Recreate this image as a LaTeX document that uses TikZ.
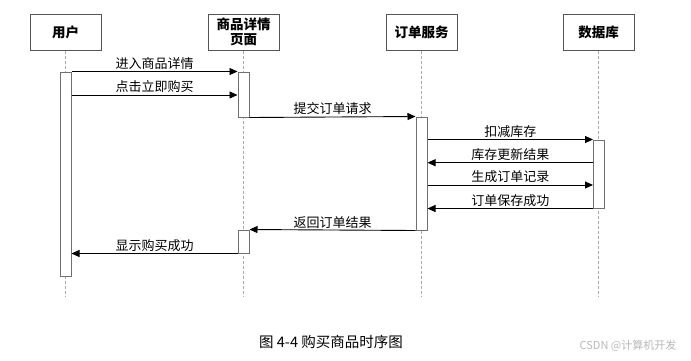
\documentclass[tikz,border=0pt]{standalone}
\usepackage{fontspec}
\setmainfont{Noto Sans CJK SC}
\usetikzlibrary{arrows.meta,positioning,calc}
\definecolor{boxline}{HTML}{555555}
\definecolor{barline}{HTML}{707070}
\definecolor{lifeline}{HTML}{AAAAAA}
\definecolor{wmark}{HTML}{B8B8B8}
\tikzset{
  actor/.style={rectangle,draw=boxline,line width=1pt,fill=white,minimum width=71pt,minimum height=36pt,align=center,inner sep=1pt,font=\fontsize{13.5}{15}\selectfont\bfseries},
  bar/.style={rectangle,draw=barline,line width=1pt,fill=white,minimum width=11pt,inner sep=0pt},
  life/.style={lifeline,dashed,line width=0.6pt,dash pattern=on 3pt off 2pt},
  msg/.style={-{Triangle[length=8pt,width=7pt]},line width=0.9pt,black},
  msglabel/.style={midway,above,inner sep=1.5pt,font=\fontsize{13}{14}\selectfont}
}
\begin{document}
\begin{tikzpicture}[x=1pt,y=-1pt]
  \useasboundingbox (0,0) rectangle (691,360);
  % participants
  \node[actor] (user) at (65.5,32) {用户};
  \node[actor] (page) at (243.5,32) {商品详情\\页面};
  \node[actor] (order) at (421.5,32) {订单服务};
  \node[actor] (db) at (598.5,32) {数据库};
  % lifelines
  \foreach \p in {user,page,order,db}
    \draw[life] (\p.south) -- (\p.south |- 0,297);
  % activation bars
  \node[bar,minimum height=204pt] (ubar) at (65.5,174) {};
  \node[bar,minimum height=45pt] (pbar1) at (243.5,94.5) {};
  \node[bar,minimum height=113pt] (obar) at (421.5,173.5) {};
  \node[bar,minimum height=68pt] (dbar) at (599,174) {};
  \node[bar,minimum height=23pt] (pbar2) at (243.5,241.5) {};
  % messages
  \coordinate (m2) at (0,95);
  \coordinate (m5) at (0,162.7);
  \coordinate (m6) at (0,185);
  \draw[msg] (ubar.north east) -- (pbar1.north west) node[msglabel] {进入商品详情};
  \draw[msg] (ubar.east |- m2) -- (pbar1.west |- m2) node[msglabel] {点击立即购买};
  \draw[msg] (pbar1.south east) -- (obar.north west) node[msglabel] {提交订单请求};
  \draw[msg] (obar.east |- dbar.north) -- (dbar.north west) node[msglabel] {扣减库存};
  \draw[msg] (dbar.west |- m5) -- (obar.east |- m5) node[msglabel] {库存更新结果};
  \draw[msg] (obar.east |- m6) -- (dbar.west |- m6) node[msglabel] {生成订单记录};
  \draw[msg] (dbar.south west) -- (obar.east |- dbar.south) node[msglabel] {订单保存成功};
  \draw[msg] (obar.south west) -- (pbar2.north east) node[msglabel] {返回订单结果};
  \draw[msg] (pbar2.south west) -- (ubar.east |- pbar2.south) node[msglabel] {显示购买成功};
  % caption
  \node[font=\fontsize{14.5}{16}\selectfont] (caption) at (331,342) {图 4-4 购买商品时序图};
  \node[font=\fontsize{11}{13}\selectfont,text=wmark] (mark) at (628,346) {CSDN @计算机开发};
\end{tikzpicture}
\end{document}
